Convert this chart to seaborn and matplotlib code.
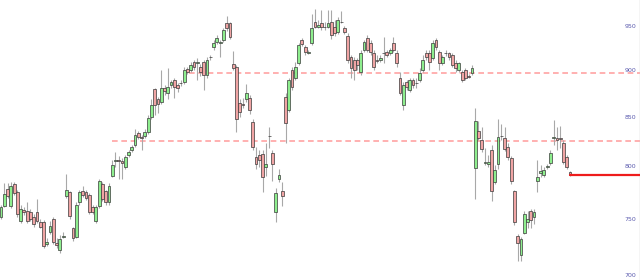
import numpy as np
import pandas as pd
import matplotlib
matplotlib.use("Agg")
import matplotlib.pyplot as plt
import seaborn as sns
from matplotlib.ticker import FixedLocator, FixedFormatter, NullLocator, NullFormatter

opens = [751,762,778,762,782,775,748,758,757,756,
         751,756,747,747,727,738,750,728,722,733,
         771,775,741,733,765,776,775,772,761,748,
         762,782,776,765,790,805,806,805,799,811,
         816,821,833,829,830,834,850,879,868,865,
         880,875,884,889,884,886,887,901,900,909,
         908,903,909,895,914.5,926,932,930,934,953,
         953,907,903,864,863,868,870,844,809,811,
         812,799,830,813,756,787,776,871,857,900,
         891,908,934,926,919.5,930,954,949,953,949,
         949,954,949,943,955,948,938,914,911,911,
         898,922,936,930,919,911,911,919,920,919,
         930,919,891,862,887,878,889,886,889,900,
         919,919,913,934,920,908,919,919,917,908,
         900,898,900,893,897,798,835,826,803,802,
         816,784,802,830,828,819,808,776,734,717,
         737,747,757,751,785,793,791,799,803,828,
         828,828,823,809,794]
closes = [761,773,771,781,774,754,759,756,748,750,
          745,748,742,725,729,743,729,726,731,734,
          777,752,732,763,775,772,769,756,756,761,
          785,768,765,781,801,806,805,803,809,814,
          819,831,829,828,834,849,862,862,863,880,
          877,881,887,881,880,885.5,900,898,906,903,
          909,898,895,911,914,930,936,931,945,947,
          937,902,847,855,862.5,875,857,819,802,806,
          789,802,829.5,802,774,791,771,843,889,881,
          903,928,929,920,920,948,949,951,949,948.5,
          953,940,942,957,954.5,943,911,902,900,906,
          919,932,922,920,903,910.5,913,918.5,917,922,
          922,908,875,884,881,889,884,885.5,897,911,
          914,909,930,926,908,914,918.5,914,906,902,
          908,889,891,892.5,902,845,828,817,804,804,
          776,796,829,829.5,817,809,785,747,728,731,
          754,750,749,756,789,795,796,800,813,829,
          826,827,804,799,791]
highs = [763,783,783,784,784,777,763,761,765,759,
         754,768,750,749,732,748,751,732,735,738,
         792,776,742,765,777,781,777,774,763,763,
         787,784,777,783,806,814,810,808,811,816,
         821,837,835,831,837,852,868,880,871,900,
         884,902,889,891,886,889,903,903,909,911,
         913,907,911,914,917,934,940,934,948,962,
         955,921,906,868,870,885,873,847,819,816,
         816,823,839,816,779,797,784,875,891,903,
         909,930,936,928,922,964,970,957,969,955,
         969,969,957,960,967,950,942,917,914,913,
         922,934,940,934,922,917,917,937,922,925,
         937,922,898,887,889,891,891,891,902,917,
         922,922,934,936,922,917,922,920,919,911,
         909,900,902,896,906,859,845,839,818,811,
         821,801,847,842,839,823,810,777,736,733,
         757,757,759,759,806,801,799,802,816,846,
         839,840,826,811,795]
lows = [750,761,769,760,772,751,746,753,746,748,
        742,746,741,723,725,736,727,723,719,732,
        769,750,730,732,763,770,767,754,754,746,
        760,766,763,763,789,799,787,787,797,809,
        814,819,827,816,828,832,847,852,854,863,
        873,868,880,870,876,882,885,896,898,900,
        889,893,878,891,911,922,929,914,932,944,
        935,900,834,850,859,865,853,816,797,799,
        775,790,818,785,747,784,762,823,855,878,
        889,906,927,917,918,928,947,947,945,945,
        947,935,938,941,953,941,908,891,889,900,
        895,920,920,917,900,908,909,908,914,917,
        920,903,873,857,878,876,880,880,887,898,
        911,900,911,922,900,906,916,911,903,898,
        898,887,889,891,895,768,826,814,801,799,
        766,782,797,826,815,806,782,744,712,712,
        736,741,741,745,775,789,789,797,801,821,
        816,818,802,797,790]

level_values = [896.7, 825.3]
level_starts = [57.5, 34.0]
last_level = 791
tick_values = [700, 750, 800, 850, 900, 950]
tick_labels = ["700", "750", "800", "850", "900", "950"]

sns.set_style("white")
plt.rcParams["font.family"] = ["DejaVu Sans"]

df = pd.DataFrame({"open": opens, "high": highs, "low": lows, "close": closes})
df["idx"] = np.arange(len(df))
df["up"] = df["close"] >= df["open"]

fig = plt.figure(figsize=(6.4, 2.8), dpi=100)
ax = fig.add_axes([0, 0, 1, 1])
ax.set_yscale("log")

# wicks
ax.vlines(df["idx"], df["low"], df["high"], color="#a8a8a8", lw=0.8, zorder=1)
# bodies
bottom = np.minimum(df["open"], df["close"])
height = np.maximum(np.abs(df["close"] - df["open"]), 0.15)
colors = np.where(df["up"], "#8eee8e", "#f0a4a4")
ax.bar(df["idx"], height, bottom=bottom, width=0.86, color=colors,
       edgecolor="#3a3a3a", linewidth=0.5, zorder=2)

n = len(df)
xmax = 195.4
for lv, st in zip(level_values, level_starts):
    ax.plot([st, xmax], [lv, lv], color="#ffa3a3", lw=1.2,
            dashes=(3.4, 2.2), zorder=0)
ax.plot([n - 1, xmax], [last_level, last_level], color="#ee1c1c", lw=1.6, zorder=3)

ax.set_xlim(-0.31, xmax)
ax.set_ylim(695.5, 980.7)
ax.yaxis.set_major_locator(FixedLocator(tick_values))
ax.yaxis.set_major_formatter(FixedFormatter(tick_labels))
ax.yaxis.set_minor_locator(NullLocator())
ax.yaxis.set_minor_formatter(NullFormatter())
ax.yaxis.tick_right()
ax.tick_params(axis="y", which="major", length=0, pad=-11, labelsize=4.5,
               labelcolor="#5a5aae")
ax.set_xticks([])
for s in ["top", "left", "bottom"]:
    ax.spines[s].set_visible(False)
ax.spines["right"].set_color("#d0d0d0")
ax.spines["right"].set_linewidth(1.0)

fig.savefig("out.png", dpi=100)
